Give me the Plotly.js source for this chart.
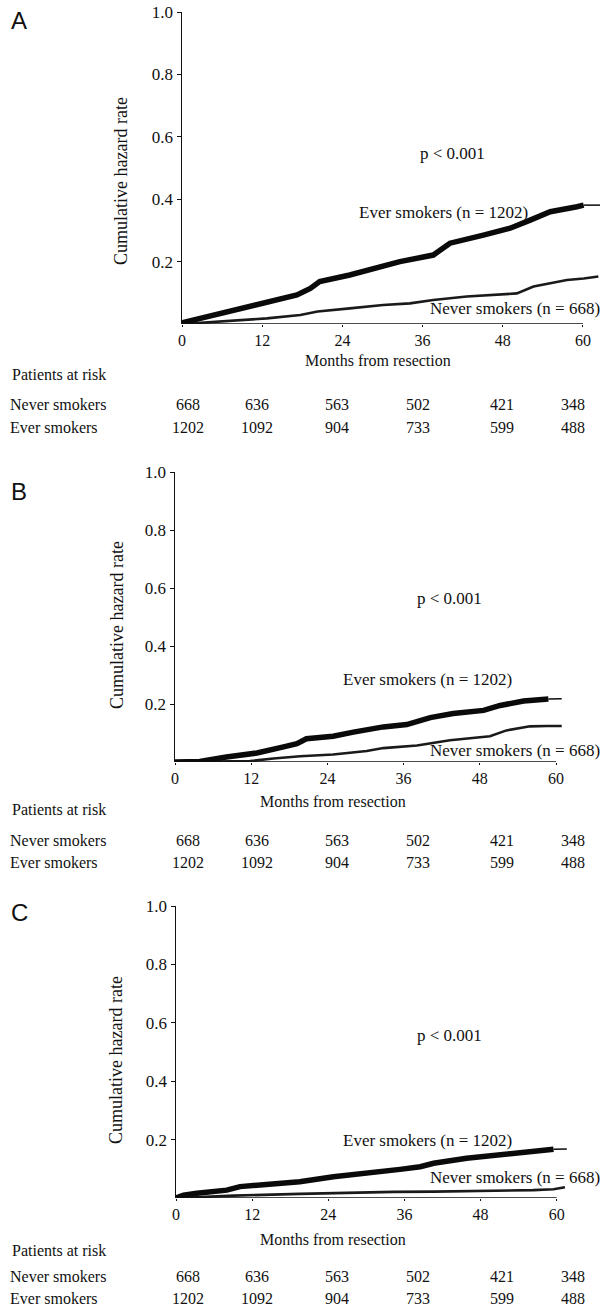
<!DOCTYPE html>
<html>
<head>
<meta charset="utf-8">
<script src="https://cdn.plot.ly/plotly-3.0.1.min.js"></script>
<style>html,body{margin:0;padding:0;background:#fff;}#chart{width:603px;height:1308px;}</style>
</head>
<body>
<div id="chart"></div>
<script>
// ---------- DATA ----------
const riskMonths = [0, 12, 24, 36, 48, 60];
const neverAtRisk = [668, 636, 563, 502, 421, 348];
const everAtRisk = [1202, 1092, 904, 733, 599, 488];
const yTickVals = [0.2, 0.4, 0.6, 0.8, 1.0];
const yTickText = ["0.2", "0.4", "0.6", "0.8", "1.0"];
const panelLetters = ["A", "B", "C"];
const everLabel = "Ever smokers (n = 1202)";
const neverLabel = "Never smokers (n = 668)";
const pLabel = "p < 0.001";

// Panel A (last point = thin tail)
const everA_x = [0, 3.7, 7.7, 12.7, 17.2, 19.2, 20.6, 25.1, 28.1, 32.6, 37.6, 40.1, 45.1, 49.1, 52.1, 55.1, 59.1, 60.1, 63.0];
const everA_y = [0.004, 0.024, 0.045, 0.072, 0.093, 0.114, 0.136, 0.157, 0.173, 0.200, 0.221, 0.259, 0.285, 0.307, 0.333, 0.360, 0.376, 0.381, 0.381];
const neverA_x = [0, 5.2, 12.7, 17.7, 20.3, 25.1, 30.1, 34.1, 37.6, 42.6, 50.1, 52.6, 57.6, 60.1, 62.3];
const neverA_y = [0, 0.007, 0.018, 0.029, 0.040, 0.050, 0.061, 0.066, 0.077, 0.088, 0.098, 0.120, 0.141, 0.146, 0.152];

// Panel B
const everB_x = [0, 3.9, 8.1, 12.9, 17.1, 19.2, 20.7, 24.9, 28.1, 32.8, 36.5, 40.2, 43.8, 48.6, 51.2, 54.9, 58.8, 60.9];
const everB_y = [0, 0.002, 0.017, 0.031, 0.052, 0.063, 0.080, 0.089, 0.103, 0.121, 0.129, 0.153, 0.167, 0.178, 0.195, 0.210, 0.217, 0.218];
const neverB_x = [0, 11.8, 15.5, 19.7, 24.9, 30.2, 32.8, 38.1, 43.3, 49.6, 52.2, 55.9, 58.5, 60.9];
const neverB_y = [0, 0.003, 0.012, 0.020, 0.026, 0.038, 0.048, 0.057, 0.075, 0.089, 0.109, 0.123, 0.124, 0.124];

// Panel C
const everC_x = [0, 1.2, 3.3, 8.0, 10.1, 14.3, 19.5, 24.8, 30.1, 35.3, 38.5, 40.6, 45.8, 51.1, 56.3, 59.5, 61.6];
const everC_y = [0, 0.010, 0.016, 0.027, 0.039, 0.045, 0.056, 0.073, 0.084, 0.098, 0.107, 0.119, 0.136, 0.147, 0.162, 0.167, 0.168];
const neverC_x = [0, 9.1, 19.5, 27.4, 34.3, 40.6, 48.4, 56.3, 59.5, 61.3];
const neverC_y = [0, 0.008, 0.014, 0.018, 0.021, 0.022, 0.024, 0.027, 0.030, 0.037];

// ---------- LAYOUT HELPERS ----------
const W = 603, H = 1308;
const SERIF = "Liberation Serif, Times New Roman, serif";
const INK = "#111";
const px = v => v / W;
const py = v => 1 - v / H;

const panels = [
  { ex: everA_x, ey: everA_y, nx: neverA_x, ny: neverA_y,
    xl: 182, xr: 600, pxPerMonth: 6.683, yTop: 12, yBot: 324,
    letterY: 21, ytitleX: 121, titleMid: 181, pX: 452, pY: 153, eX: 443, eY: 213, nY: 308,
    mX: 378, mY: 360, parY: 374, neverY: 405, everY: 427 },
  { ex: everB_x, ey: everB_y, nx: neverB_x, ny: neverB_y,
    xl: 175, xr: 598, pxPerMonth: 6.35, yTop: 472, yBot: 762,
    letterY: 491, ytitleX: 117, titleMid: 625, pX: 449, pY: 598, eX: 427, eY: 680, nY: 750,
    mX: 333, mY: 801, parY: 809, neverY: 840, everY: 862 },
  { ex: everC_x, ey: everC_y, nx: neverC_x, ny: neverC_y,
    xl: 176, xr: 598, pxPerMonth: 6.345, yTop: 906, yBot: 1198,
    letterY: 912, ytitleX: 116, titleMid: 1060, pX: 449, pY: 1035, eX: 427, eY: 1140, nY: 1177,
    mX: 333, mY: 1239, parY: 1250, neverY: 1276, everY: 1298 }
];
const riskColX = [188, 257, 337, 418, 502, 573];

const traces = [];
const layout = {
  width: W, height: H,
  margin: { l: 0, r: 0, t: 0, b: 0 },
  paper_bgcolor: "#fff", plot_bgcolor: "rgba(0,0,0,0)",
  showlegend: false,
  font: { family: SERIF, color: INK, size: 17 },
  annotations: [], shapes: []
};

panels.forEach((p, i) => {
  const s = i === 0 ? "" : String(i + 1);
  const xa = "x" + s, ya = "y" + s;
  const xmax = (p.xr - p.xl) / p.pxPerMonth;

  layout["xaxis" + s] = {
    domain: [px(p.xl), px(p.xr)], range: [0, xmax], anchor: ya,
    showgrid: false, zeroline: false, showline: false,
    tickmode: "array", tickvals: riskMonths, ticktext: riskMonths.map(String),
    ticks: "outside", ticklen: 2, tickwidth: 1, tickcolor: INK,
    tickfont: { family: SERIF, size: 16, color: INK }, fixedrange: true
  };
  layout["yaxis" + s] = {
    domain: [py(p.yBot), py(p.yTop)], range: [0, 1], anchor: xa,
    showgrid: false, zeroline: false, showline: true, linecolor: INK, linewidth: 1.5,
    tickmode: "array", tickvals: yTickVals, ticktext: yTickText,
    ticks: "outside", ticklen: 4, tickwidth: 1, tickcolor: INK,
    tickfont: { family: SERIF, size: 17, color: INK }, fixedrange: true
  };
  // x axis baseline from 0 to 60 months
  layout.shapes.push({ type: "line", xref: xa, yref: ya, x0: 0, x1: 60, y0: 0, y1: 0,
    line: { color: INK, width: 1.5 } });

  const n = p.ex.length;
  traces.push({ x: p.nx, y: p.ny, xaxis: xa, yaxis: ya, type: "scatter", mode: "lines",
    line: { color: "#1a1a1a", width: 2.6 }, hoverinfo: "skip" });
  traces.push({ x: p.ex.slice(0, n - 1), y: p.ey.slice(0, n - 1), xaxis: xa, yaxis: ya,
    type: "scatter", mode: "lines", line: { color: "#0a0a0a", width: 5.5 }, hoverinfo: "skip" });
  traces.push({ x: p.ex.slice(n - 2), y: p.ey.slice(n - 2), xaxis: xa, yaxis: ya,
    type: "scatter", mode: "lines", line: { color: "#0a0a0a", width: 1.5 }, hoverinfo: "skip" });

  const A = (text, x, y, opts) => layout.annotations.push(Object.assign({
    text, xref: "paper", yref: "paper", x: px(x), y: py(y), showarrow: false,
    xanchor: "center", yanchor: "middle", font: { family: SERIF, size: 17, color: INK }
  }, opts || {}));

  A(panelLetters[i], 9, p.letterY, { xanchor: "left", font: { family: "Liberation Sans, Arial, sans-serif", size: 24, color: INK } });
  A("Cumulative hazard rate", p.ytitleX, p.titleMid, { textangle: -90, font: { family: SERIF, size: 18, color: INK } });
  A(pLabel, p.pX, p.pY);
  A(everLabel, p.eX, p.eY);
  A(neverLabel, 602, p.nY, { xanchor: "right" });
  A("Months from resection", p.mX, p.mY, { font: { family: SERIF, size: 16, color: INK } });
  A("Patients at risk", 10, p.parY, { xanchor: "left", font: { family: SERIF, size: 16, color: INK } });
  A("Never smokers", 8, p.neverY, { xanchor: "left", font: { family: SERIF, size: 16, color: INK } });
  A("Ever smokers", 8, p.everY, { xanchor: "left", font: { family: SERIF, size: 16, color: INK } });
  riskMonths.forEach((m, k) => {
    A(String(neverAtRisk[k]), riskColX[k], p.neverY, { font: { family: SERIF, size: 16, color: INK } });
    A(String(everAtRisk[k]), riskColX[k], p.everY, { font: { family: SERIF, size: 16, color: INK } });
  });
});

Plotly.newPlot("chart", traces, layout, { staticPlot: true, displayModeBar: false });
</script>
</body>
</html>
